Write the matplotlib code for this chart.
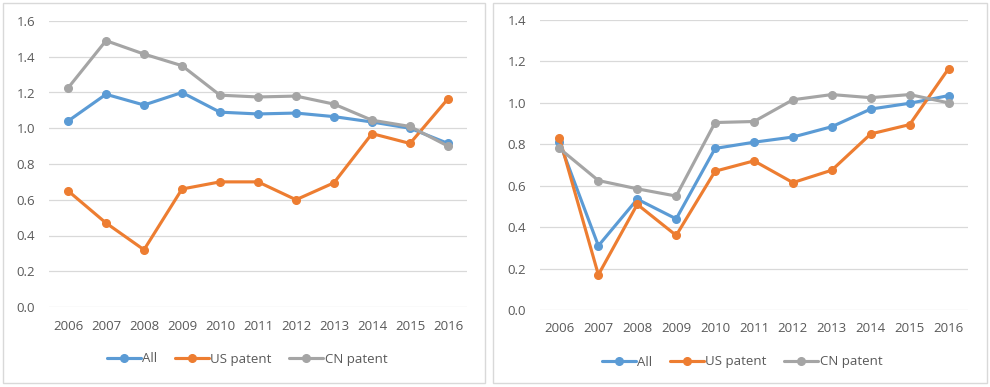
import matplotlib.pyplot as plt
from matplotlib.patches import Rectangle

years = [str(y) for y in range(2006, 2017)]

# left panel
left_all = [1.04, 1.19, 1.13, 1.20, 1.09, 1.08, 1.085, 1.065, 1.035, 1.00, 0.915]
left_us = [0.65, 0.47, 0.32, 0.66, 0.70, 0.70, 0.60, 0.695, 0.97, 0.915, 1.165]
left_cn = [1.225, 1.49, 1.415, 1.35, 1.185, 1.175, 1.18, 1.135, 1.045, 1.01, 0.90]

# right panel
right_all = [0.81, 0.31, 0.535, 0.44, 0.78, 0.81, 0.835, 0.885, 0.97, 0.998, 1.035]
right_us = [0.83, 0.17, 0.51, 0.36, 0.67, 0.72, 0.615, 0.675, 0.85, 0.895, 1.165]
right_cn = [0.78, 0.625, 0.585, 0.55, 0.905, 0.91, 1.015, 1.04, 1.025, 1.04, 1.0]

series_names = ['All', 'US patent', 'CN patent']
colors = ['#5B9BD5', '#ED7D31', '#A5A5A5']

plt.rcParams['font.family'] = ['Open Sans', 'DejaVu Sans']

fig = plt.figure(figsize=(9.9, 3.87), dpi=100)

W, H = 990.0, 387.0


def fx(px):
    return px / W


def fy(py):
    return 1 - py / H


# panel borders
for x0, x1 in [(3, 485), (493, 987)]:
    fig.patches.append(Rectangle((fx(x0), fy(383)), fx(x1 - x0), (383 - 3) / H,
                                 transform=fig.transFigure, fill=False,
                                 edgecolor='#D9D9D9', lw=1.0))


def draw_panel(rect, data, ymax, legend_center):
    ax = fig.add_axes(rect)
    x = range(len(years))
    for vals, name, c in zip(data, series_names, colors):
        ax.plot(x, vals, color=c, lw=2.25, marker='o', markersize=5.5, label=name,
                solid_capstyle='round')
    ax.set_xlim(-0.5, len(years) - 0.5)
    ax.set_ylim(0, ymax)
    ticks = [i * 0.2 for i in range(int(round(ymax / 0.2)) + 1)]
    ax.set_yticks(ticks)
    ax.set_yticklabels(['%.1f' % t for t in ticks])
    ax.set_xticks(list(x))
    ax.set_xticklabels(years)
    ax.grid(axis='y', color='#D9D9D9', lw=0.9)
    ax.set_axisbelow(True)
    for s in ax.spines.values():
        s.set_visible(False)
    ax.tick_params(length=0, colors='#595959', labelsize=9.5)
    ax.tick_params(axis='x', pad=9)
    ax.tick_params(axis='y', pad=10)
    fig.legend(*ax.get_legend_handles_labels(), loc='center',
               bbox_to_anchor=legend_center, ncol=3, frameon=False,
               fontsize=9.5, handlelength=2.6, handletextpad=0.1,
               columnspacing=1.3, labelcolor='#595959')
    return ax


draw_panel([fx(49), fy(307), fx(467 - 49), (307 - 21) / H],
           [left_all, left_us, left_cn], 1.6, (fx(247), fy(359)))
draw_panel([fx(540), fy(310), fx(968 - 540), (310 - 20) / H],
           [right_all, right_us, right_cn], 1.4, (fx(742), fy(362)))

fig.savefig('out.png', dpi=100)
